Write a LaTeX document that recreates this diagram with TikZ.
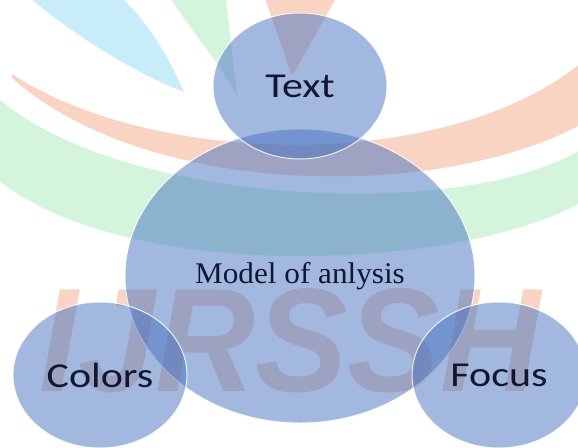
\documentclass[tikz,border=0pt]{standalone}
\usepackage{fontspec}
\usepackage{graphicx}
\usetikzlibrary{shapes.geometric}
\newfontfamily\calib{Carlito}
\newfontfamily\serifM{Liberation Serif}
\newfontfamily\wmfont{Liberation Sans}
\definecolor{wmblue}{RGB}{200,236,248}
\definecolor{wmgreen}{RGB}{212,245,220}
\definecolor{wmsalmon}{RGB}{249,212,194}
\definecolor{wmletter}{RGB}{247,212,196}
\definecolor{bubblefill}{RGB}{70,114,191}
\definecolor{labelink}{RGB}{17,23,51}
\tikzset{
  bubble/.style={ellipse, inner sep=0pt, fill=bubblefill, fill opacity=0.5,
    text opacity=1, draw=white, draw opacity=0.85, line width=1pt, text=labelink},
  smallbubble/.style={bubble, minimum width=174pt, minimum height=146pt,
    font={\calib\fontsize{35}{40}\selectfont}},
  bigbubble/.style={bubble, minimum width=350pt, minimum height=294pt,
    font={\serifM\fontsize{30}{36}\selectfont}},
}
\begin{document}
\begin{tikzpicture}[x=1pt,y=-1pt]
\useasboundingbox (0,0) rectangle (578,447);
\clip (0,0) rectangle (578,447);
\fill[white] (0,0) rectangle (578,447);
% watermark swooshes
\fill[wmblue] (30,-2) .. controls (80,40) and (140,75) .. (184,92)
  .. controls (170,60) and (150,25) .. (122,-2) -- cycle;
\fill[wmgreen] (170,-2) .. controls (195,35) and (220,65) .. (237,95) -- (226,-2) -- cycle;
\fill[wmsalmon] (265,-2) -- (292,76) -- (336,-2) -- cycle;
\fill[wmsalmon] (12,74) .. controls (150,165) and (440,175) .. (580,64)
  -- (580,125) .. controls (440,200) and (150,200) .. (12,78) -- cycle;
\fill[wmgreen] (-2,98) .. controls (120,205) and (460,222) .. (580,150)
  -- (580,203) .. controls (460,270) and (130,285) .. (-2,180) -- cycle;
\node[text=wmletter, inner sep=0pt] (wm) at (290,341)
  {\resizebox{500pt}{103pt}{\wmfont\bfseries\itshape IJRSSH}};
% bubbles
\node[bigbubble] (model) at (300,276) {\scalebox{1.04}[1]{Model of anlysis}};
\node[smallbubble] (text) at (300,86) {\scalebox{1.2}[1]{Text}};
\node[smallbubble] (colors) at (100,375) {\scalebox{1.2}[1]{Colors}};
\node[smallbubble] (focus) at (499,375) {\scalebox{1.2}[1]{Focus}};
\end{tikzpicture}
\end{document}
